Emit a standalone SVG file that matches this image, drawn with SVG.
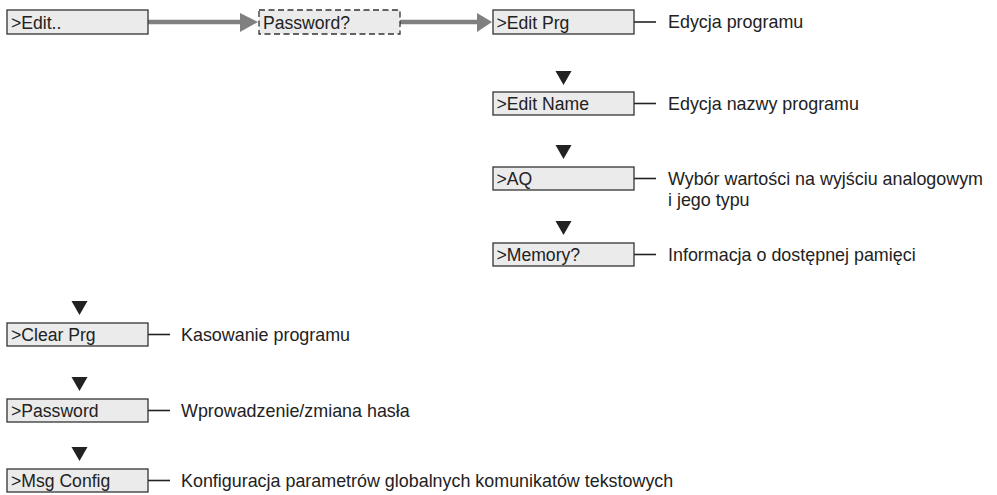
<svg xmlns="http://www.w3.org/2000/svg" width="997" height="495" viewBox="0 0 997 495">
<style>
.box{fill:#ebebeb;stroke:#333;stroke-width:1.3}
.dash{fill:#ebebeb;stroke:#333;stroke-width:1.3;stroke-dasharray:6,3.5}
.bt{font-family:"Liberation Sans",Arial,sans-serif;font-size:17.6px;fill:#222}
.lt{font-family:"Liberation Sans",Arial,sans-serif;font-size:17.9px;fill:#222}
.tri{fill:#222}
.lead{stroke:#222;stroke-width:1.6}
.shaft{stroke:#808080;stroke-width:4.5}
.head{fill:#808080}
</style>
<rect width="997" height="495" fill="#fff"/>
<g id="connectors">
  <line class="shaft" x1="148" y1="22" x2="242" y2="22"/>
  <polygon class="head" points="240,13 258,22 240,32"/>
  <line class="shaft" x1="400" y1="22" x2="479" y2="22"/>
  <polygon class="head" points="477,13 492,22 477,32"/>
  <polygon class="tri" points="555.5,71 571.5,71 563.5,85"/>
  <polygon class="tri" points="555.5,145 571.5,145 563.5,159"/>
  <polygon class="tri" points="555.5,221 571.5,221 563.5,235"/>
  <polygon class="tri" points="71.5,301 87.5,301 79.5,315"/>
  <polygon class="tri" points="71.5,377 87.5,377 79.5,391"/>
  <polygon class="tri" points="71.5,447 87.5,447 79.5,461"/>
  <line class="lead" x1="634" y1="22" x2="656" y2="22"/>
  <line class="lead" x1="634" y1="103.5" x2="656" y2="103.5"/>
  <line class="lead" x1="634" y1="178.5" x2="656" y2="178.5"/>
  <line class="lead" x1="634" y1="254.5" x2="656" y2="254.5"/>
  <line class="lead" x1="148" y1="334.5" x2="170" y2="334.5"/>
  <line class="lead" x1="148" y1="410.5" x2="170" y2="410.5"/>
  <line class="lead" x1="148" y1="480.5" x2="170" y2="480.5"/>
</g>
<g id="edit">
  <rect class="box" x="7" y="10" width="141" height="24"/>
  <text class="bt" x="11" y="28.5">&gt;Edit..</text>
</g>
<g id="password-q">
  <rect class="dash" x="259" y="10" width="141" height="24"/>
  <text class="bt" x="263" y="28.5">Password?</text>
</g>
<g id="edit-prg">
  <rect class="box" x="493" y="10" width="141" height="24"/>
  <text class="bt" x="496.5" y="28.5">&gt;Edit Prg</text>
  <text class="lt" x="668" y="28">Edycja programu</text>
</g>
<g id="edit-name">
  <rect class="box" x="493" y="92" width="141" height="23"/>
  <text class="bt" x="496.5" y="110">&gt;Edit Name</text>
  <text class="lt" x="668" y="110">Edycja nazwy programu</text>
</g>
<g id="aq">
  <rect class="box" x="493" y="167" width="141" height="23"/>
  <text class="bt" x="496.5" y="185">&gt;AQ</text>
  <text class="lt" x="668" y="185">Wybór wartości na wyjściu analogowym</text>
  <text class="lt" x="668" y="206">i jego typu</text>
</g>
<g id="memory">
  <rect class="box" x="493" y="243" width="141" height="23"/>
  <text class="bt" x="496.5" y="261">&gt;Memory?</text>
  <text class="lt" x="668" y="261">Informacja o dostępnej pamięci</text>
</g>
<g id="clear-prg">
  <rect class="box" x="7" y="323" width="141" height="23"/>
  <text class="bt" x="11" y="341">&gt;Clear Prg</text>
  <text class="lt" x="181" y="341">Kasowanie programu</text>
</g>
<g id="password">
  <rect class="box" x="7" y="399" width="141" height="23"/>
  <text class="bt" x="11" y="417">&gt;Password</text>
  <text class="lt" x="181" y="417">Wprowadzenie/zmiana hasła</text>
</g>
<g id="msg-config">
  <rect class="box" x="7" y="469" width="141" height="23"/>
  <text class="bt" x="11" y="487">&gt;Msg Config</text>
  <text class="lt" x="181" y="487">Konfiguracja parametrów globalnych komunikatów tekstowych</text>
</g>
</svg>
